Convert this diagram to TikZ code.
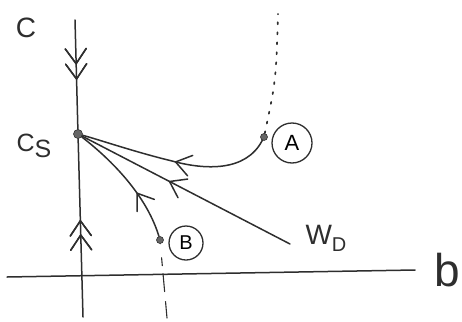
\documentclass[tikz,border=0pt]{standalone}
\usepackage{fontspec}
\setmainfont{Liberation Sans}
\usetikzlibrary{decorations.markings}
\begin{document}
\begin{tikzpicture}[x=1pt,y=-1pt,
  ink/.style={draw=black!82, line width=1.5pt, line cap=round, line join=round},
  dot/.style={circle, fill=black!60, draw=black!80, line width=0.6pt, inner sep=0pt, minimum size=7pt},
  ring/.style={circle, draw=black!82, line width=1.3pt, inner sep=0pt},
  lab/.style={text=black!82, inner sep=0pt},
  chevat/.style={postaction={decorate}, decoration={markings,
     mark=at position #1 with {\draw[ink, solid] (-15pt,-10.5pt) -- (0pt,0pt) -- (-15pt,10.5pt);}}},
]
\useasboundingbox (0,0) rectangle (462,321);

% coordinates
\coordinate (vtop) at (75,20);
\coordinate (vbot) at (83,317);
\coordinate (hl) at (7,277);
\coordinate (hr) at (415,270);
\coordinate (WD) at (290,244);
\coordinate (Atop) at (278,14);
\coordinate (Bbot) at (167,318);

% nodes
\node[dot, minimum size=9pt] (Cs) at (78,134) {};
\node[dot] (A) at (264,137) {};
\node[dot] (B) at (160,240) {};

% axes
\draw[ink] (hl) -- (hr);
\draw[ink, chevat=0.40, chevat=0.54] (vtop) -- (Cs);
\draw[ink, chevat=0.46, chevat=0.54] (vbot) -- (Cs);

% trajectories
\draw[ink, chevat=0.58] (WD) -- (Cs);
\draw[ink, chevat=0.5] (A) .. controls (246,172) and (205,170) .. (172,161)
      .. controls (135,152) and (100,140) .. (Cs);
\draw[ink, chevat=0.38] (B) .. controls (148,200) and (118,165) .. (Cs);

% dotted / dashed continuations
\draw[ink, line width=1.7pt, dash pattern=on 2pt off 8pt] (A) .. controls (276,80) .. (Atop);
\draw[ink, line width=1.1pt, dash pattern=on 0pt off 14pt on 8pt off 8pt on 18pt off 10pt on 24pt off 40pt] (B) -- (Bbot);

% labels
\node[lab, font=\fontsize{28}{28}\selectfont] (lc) at (26,28) {C};
\node[lab, font=\fontsize{25}{25}\selectfont] (lcs) at (34,146) {C\raisebox{-6pt}{S}};
\node[lab, font=\fontsize{46}{46}\selectfont] (lb) at (447,270) {b};
\node[lab, font=\fontsize{28}{28}\selectfont] (lwd) at (326,238) {W\raisebox{-7pt}{\fontsize{20}{20}\selectfont D}};
\node[ring, minimum size=40pt, font=\fontsize{22}{22}\selectfont] (cA) at (292,143) {A};
\node[ring, minimum size=34pt, font=\fontsize{20}{20}\selectfont] (cB) at (186,243) {B};
\end{tikzpicture}
\end{document}
